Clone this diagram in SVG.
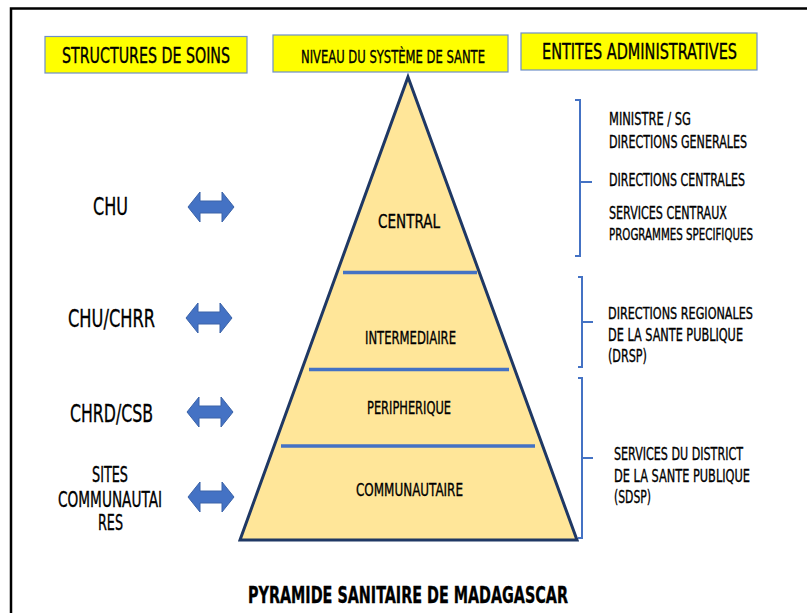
<svg xmlns="http://www.w3.org/2000/svg" width="807" height="613" viewBox="0 0 807 613">
<style>
.t{font-family:"Liberation Sans Narrow","DejaVu Sans Condensed","Liberation Sans",sans-serif;fill:#000;stroke:#000;stroke-width:0.35;}
.hdr{fill:#FFFF00;stroke:#6E8FC8;stroke-width:1.2;}
.div{stroke:#4472C4;stroke-width:3.5;}
.br{fill:none;stroke:#4472C4;stroke-width:2;}
.arr{fill:#4472C4;stroke:#3A62A8;stroke-width:1;}
</style>
<defs>
<path id="dbl" class="arr" d="M-23,0 L-11,-15 L-11,-6 L11,-6 L11,-15 L23,0 L11,15 L11,6 L-11,6 L-11,15 Z"/>
</defs>
<rect width="807" height="613" fill="#fff"/>
<rect x="11" y="8.5" width="820" height="640" fill="none" stroke="#000" stroke-width="2.5"/>

<g id="header-soins">
<rect class="hdr" x="45" y="36.5" width="202" height="36.5"/>
<text class="t" x="62" y="63" font-size="21.5" textLength="168" lengthAdjust="spacingAndGlyphs">STRUCTURES DE SOINS</text>
</g>
<g id="header-niveau">
<rect class="hdr" x="273" y="35" width="235" height="37"/>
<text class="t" x="301" y="63" font-size="17.5" textLength="184" lengthAdjust="spacingAndGlyphs">NIVEAU  DU SYSTÈME DE SANTE</text>
</g>
<g id="header-entites">
<rect class="hdr" x="521" y="33" width="236" height="37"/>
<text class="t" x="542" y="59" font-size="21.5" textLength="195" lengthAdjust="spacingAndGlyphs">ENTITES ADMINISTRATIVES</text>
</g>

<g id="pyramide">
<path d="M408,77 L577,540 L240,540 Z" fill="#FFE699" stroke="#1F3864" stroke-width="3" stroke-linejoin="miter"/>
<line class="div" x1="343" y1="272.5" x2="477" y2="272.5"/>
<line class="div" x1="309" y1="369.5" x2="509" y2="369.5"/>
<line class="div" x1="281" y1="446" x2="535" y2="446"/>
</g>
<g id="niveau-central"><text class="t" x="378" y="228" font-size="19.5" textLength="62" lengthAdjust="spacingAndGlyphs">CENTRAL</text></g>
<g id="niveau-intermediaire"><text class="t" x="365" y="344" font-size="18" textLength="91" lengthAdjust="spacingAndGlyphs">INTERMEDIAIRE</text></g>
<g id="niveau-peripherique"><text class="t" x="367" y="414" font-size="18" textLength="84" lengthAdjust="spacingAndGlyphs">PERIPHERIQUE</text></g>
<g id="niveau-communautaire"><text class="t" x="356" y="496" font-size="18" textLength="107" lengthAdjust="spacingAndGlyphs">COMMUNAUTAIRE</text></g>

<g id="soin-chu"><text class="t" x="93" y="215" font-size="25" textLength="35" lengthAdjust="spacingAndGlyphs">CHU</text></g>
<g id="soin-chu-chrr"><text class="t" x="68" y="326.5" font-size="25" textLength="87" lengthAdjust="spacingAndGlyphs">CHU/CHRR</text></g>
<g id="soin-chrd-csb"><text class="t" x="70" y="421.5" font-size="25" textLength="83" lengthAdjust="spacingAndGlyphs">CHRD/CSB</text></g>
<g id="soin-sites">
<text class="t" x="92" y="481.5" font-size="21" textLength="36" lengthAdjust="spacingAndGlyphs">SITES</text>
<text class="t" x="58" y="506.5" font-size="21" textLength="104" lengthAdjust="spacingAndGlyphs">COMMUNAUTAI</text>
<text class="t" x="98" y="530" font-size="21" textLength="25" lengthAdjust="spacingAndGlyphs">RES</text>
</g>

<g id="connecteurs">
<use href="#dbl" x="211" y="207"/>
<use href="#dbl" x="209" y="318"/>
<use href="#dbl" x="210" y="412"/>
<use href="#dbl" x="211" y="497"/>
<path class="br" d="M575,100 L580,100 L580,256 L575,256 M580,182 L592,182"/>
<path class="br" d="M578,277 L582,277 L582,367 L578,367 M582,322 L593,322"/>
<path class="br" d="M578,378 L582,378 L582,538 L578,538 M582,458 L593,458"/>
</g>

<g id="entite-central">
<text class="t" x="609" y="125" font-size="17.5" textLength="82" lengthAdjust="spacingAndGlyphs">MINISTRE / SG</text>
<text class="t" x="609" y="148" font-size="17.5" textLength="138" lengthAdjust="spacingAndGlyphs">DIRECTIONS GENERALES</text>
<text class="t" x="609" y="185.5" font-size="17.5" textLength="136" lengthAdjust="spacingAndGlyphs">DIRECTIONS CENTRALES</text>
<text class="t" x="609" y="219" font-size="17.5" textLength="118" lengthAdjust="spacingAndGlyphs">SERVICES CENTRAUX</text>
<text class="t" x="609" y="240" font-size="15" textLength="144" lengthAdjust="spacingAndGlyphs">PROGRAMMES SPECIFIQUES</text>
</g>
<g id="entite-regional">
<text class="t" x="608" y="319" font-size="16.5" textLength="145" lengthAdjust="spacingAndGlyphs">DIRECTIONS REGIONALES</text>
<text class="t" x="608" y="341" font-size="18" textLength="135" lengthAdjust="spacingAndGlyphs">DE LA SANTE PUBLIQUE</text>
<text class="t" x="608" y="362" font-size="18" textLength="39" lengthAdjust="spacingAndGlyphs">(DRSP)</text>
</g>
<g id="entite-district">
<text class="t" x="614" y="460" font-size="18" textLength="129" lengthAdjust="spacingAndGlyphs">SERVICES DU DISTRICT</text>
<text class="t" x="614" y="481.5" font-size="18" textLength="136" lengthAdjust="spacingAndGlyphs">DE LA SANTE PUBLIQUE</text>
<text class="t" x="614" y="502.5" font-size="18" textLength="37" lengthAdjust="spacingAndGlyphs">(SDSP)</text>
</g>

<g id="titre">
<text class="t" x="248" y="603" font-size="23" font-weight="bold" textLength="320" lengthAdjust="spacingAndGlyphs">PYRAMIDE SANITAIRE DE MADAGASCAR</text>
</g>
</svg>
